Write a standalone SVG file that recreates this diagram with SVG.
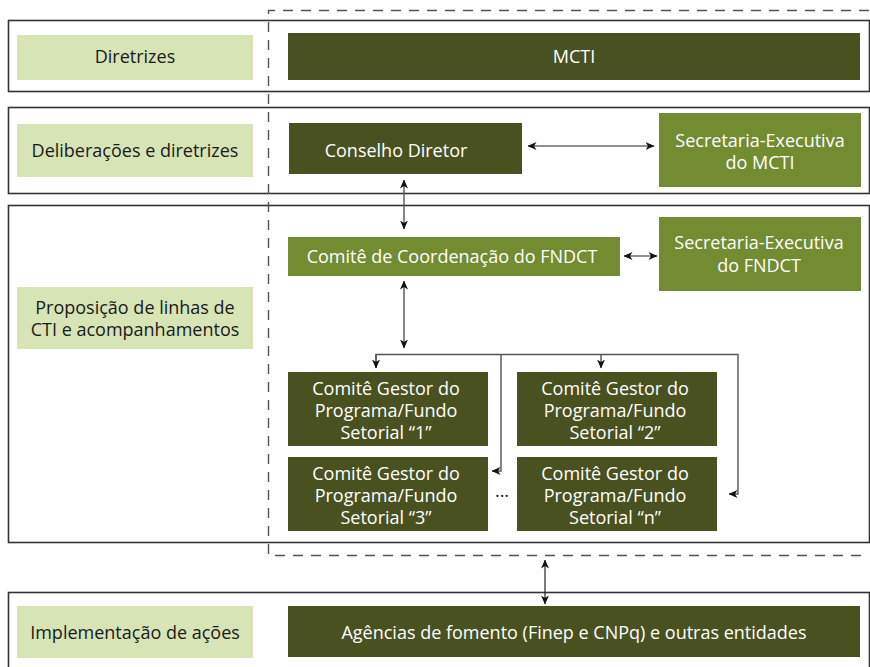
<svg xmlns="http://www.w3.org/2000/svg" width="870" height="667" viewBox="0 0 870 667">
<defs>
<marker id="ah" markerWidth="9" markerHeight="8" refX="8.5" refY="4" orient="auto-start-reverse" markerUnits="userSpaceOnUse">
<path d="M0,0 L9,4 L0,8 L2.5,4 Z" fill="#111"/>
</marker>
<style>
.band{fill:#fff;stroke:#333;stroke-width:1.6}
.lbl{fill:#d7e4b6}
.dk{fill:#4a5121}
.md{fill:#738c32}
.t{font-family:"Open Sans","Noto Sans","Liberation Sans",sans-serif;font-size:18px;text-anchor:middle}
.tl{fill:#1a1a1a}
.tw{fill:#fff}
.c{fill:none;stroke:#555;stroke-width:1.4}
.ca{fill:none;stroke:#222;stroke-width:1.2}
</style>
</defs>
<rect width="870" height="667" fill="#fff"/>

<g id="bands">
<rect class="band" x="8.5" y="20.5" width="861" height="71"/>
<rect class="band" x="8.5" y="107.5" width="861" height="86"/>
<rect class="band" x="8.5" y="205.5" width="861" height="337"/>
<rect class="band" x="8.5" y="592.5" width="861" height="80"/>
</g>

<path id="scope" d="M869,10.5 H268.5 V555.5 H869" fill="none" stroke="#555" stroke-width="1.4" stroke-dasharray="10,8"/>

<g id="lbl-diretrizes"><rect class="lbl" x="17" y="35" width="236" height="45"/><text class="t tl" x="135" y="63">Diretrizes</text></g>
<g id="lbl-deliberacoes"><rect class="lbl" x="17" y="124" width="236" height="53"/><text class="t tl" x="135" y="157">Deliberações e diretrizes</text></g>
<g id="lbl-proposicao"><rect class="lbl" x="17" y="287" width="236" height="62"/><text class="t tl" x="135" y="313.5">Proposição de linhas de</text><text class="t tl" x="135" y="335.5">CTI e acompanhamentos</text></g>
<g id="lbl-implementacao"><rect class="lbl" x="17" y="606" width="236" height="52"/><text class="t tl" x="135" y="638.5">Implementação de ações</text></g>

<g id="mcti"><rect class="dk" x="288" y="33" width="572" height="47"/><text class="t tw" x="574" y="63">MCTI</text></g>
<g id="conselho"><rect class="dk" x="289" y="123" width="233" height="51"/><text class="t tw" x="396" y="157">Conselho Diretor</text></g>
<g id="sec-mcti"><rect class="md" x="659" y="113" width="202" height="74"/><text class="t tw" x="760" y="146.5">Secretaria-Executiva</text><text class="t tw" x="760" y="168.5">do MCTI</text></g>
<g id="comite-coord"><rect class="md" x="288" y="237" width="332" height="39"/><text class="t tw" x="452" y="262.5">Comitê de Coordenação do FNDCT</text></g>
<g id="sec-fndct"><rect class="md" x="659" y="217" width="202" height="74"/><text class="t tw" x="759" y="248.5">Secretaria-Executiva</text><text class="t tw" x="759" y="271.5">do FNDCT</text></g>

<g id="gestor-1"><rect class="dk" x="288" y="372" width="200" height="74"/><text class="t tw" x="386" y="394.5">Comitê Gestor do</text><text class="t tw" x="386" y="416.5">Programa/Fundo</text><text class="t tw" x="386" y="438.5">Setorial “1”</text></g>
<g id="gestor-2"><rect class="dk" x="517" y="372" width="200" height="74"/><text class="t tw" x="615" y="394.5">Comitê Gestor do</text><text class="t tw" x="615" y="416.5">Programa/Fundo</text><text class="t tw" x="615" y="438.5">Setorial “2”</text></g>
<g id="gestor-3"><rect class="dk" x="288" y="457" width="200" height="74"/><text class="t tw" x="386" y="479.5">Comitê Gestor do</text><text class="t tw" x="386" y="501.5">Programa/Fundo</text><text class="t tw" x="386" y="523.5">Setorial “3”</text></g>
<g id="gestor-n"><rect class="dk" x="517" y="457" width="200" height="74"/><text class="t tw" x="615" y="479.5">Comitê Gestor do</text><text class="t tw" x="615" y="501.5">Programa/Fundo</text><text class="t tw" x="615" y="523.5">Setorial “n”</text></g>
<text id="ellipsis" class="t tl" x="502" y="497">...</text>

<g id="agencias"><rect class="dk" x="288" y="606" width="572" height="51"/><text class="t tw" x="574" y="638.5">Agências de fomento (Finep e CNPq) e outras entidades</text></g>

<g id="connectors">
<line class="ca" x1="528" y1="146" x2="654" y2="146" marker-start="url(#ah)" marker-end="url(#ah)"/>
<line class="c" x1="404" y1="180" x2="404" y2="229" marker-start="url(#ah)" marker-end="url(#ah)"/>
<line class="ca" x1="624" y1="256" x2="657" y2="256" marker-start="url(#ah)" marker-end="url(#ah)"/>
<line class="c" x1="404" y1="281" x2="404" y2="348" marker-start="url(#ah)" marker-end="url(#ah)"/>
<path class="c" d="M376,368 V354.5 H738 V494 H729" marker-end="url(#ah)"/>
<path class="c" d="M376,354.5 V368" marker-end="url(#ah)"/>
<path class="c" d="M601,354.5 V368" marker-end="url(#ah)"/>
<path class="c" d="M501,354.5 V471 H492" marker-end="url(#ah)"/>
<line class="ca" x1="545" y1="560" x2="545" y2="604" marker-start="url(#ah)" marker-end="url(#ah)"/>
</g>
</svg>
